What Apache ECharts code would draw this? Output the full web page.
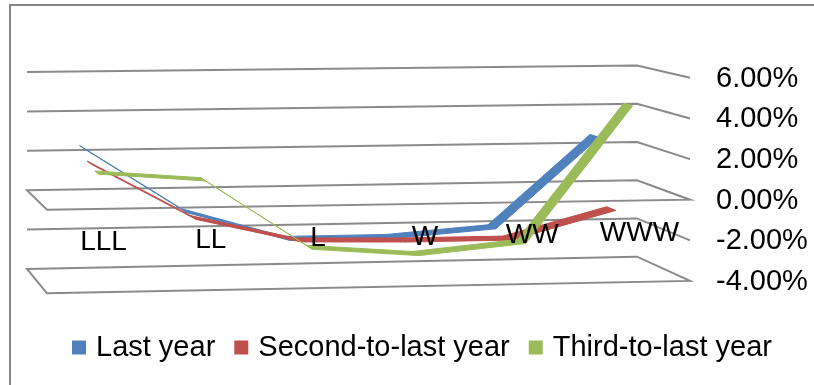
<!DOCTYPE html>
<html>
<head>
<meta charset="utf-8">
<script src="https://cdn.jsdelivr.net/npm/echarts@6/dist/echarts.min.js"></script>
<style>
  html, body { margin: 0; padding: 0; background: #fff; }
  #chart { width: 814px; height: 385px; }
</style>
</head>
<body>
<div id="chart"></div>
<script>
// ---- data ----
const categories = ['LLL', 'LL', 'L', 'W', 'WW', 'WWW'];
const lastYear = [2.3, -1.0, -2.5, -2.5, -2.1, 2.5];
const secondToLastYear = [1.8, -1.0, -2.2, -2.3, -2.3, -0.9];
const thirdToLastYear = [1.6, 1.2, -2.2, -2.6, -2.1, 4.6];
const seriesNames = ['Last year', 'Second-to-last year', 'Third-to-last year'];
const valueTicks = [-4, -2, 0, 2, 4, 6];
const planeLevels = [-4, 0];

// ---- look ----
const colors = ['#4F81BD', '#C0504D', '#9BBB59'];
const gridColor = '#8A8A8A';
const FONT = '"Liberation Sans", Arial, sans-serif';

// 3D view: the back wall is the cartesian grid; depth runs toward the viewer
const TILT = -10;        // right end of the wall sits higher
const SQUEEZE = 0.97;    // vertical foreshortening at the right end
const DX_LEFT = 20, DX_RIGHT = 53;     // horizontal depth shift, left/right
const DY_ZERO = 19.5, DY_GROW = 0.061; // vertical depth shift
const RIBBON_HALF = 0.09;

function project(params, api, xb, v, f) {
  const cs = params.coordSys;
  const t = (xb - cs.x) / cs.width;
  const y0 = api.coord([0, 0])[1];
  const yL = api.coord([0, v])[1];
  const yb = y0 + (yL - y0) * (1 - t * (1 - SQUEEZE)) + t * TILT;
  const dx = f * (DX_LEFT + (DX_RIGHT - DX_LEFT) * t);
  const dy = f * (DY_ZERO - DY_GROW * (y0 - yL));
  return [xb + dx, yb + dy];
}

// wall grid lines, side lines and the two full planes
function renderWalls(params, api) {
  const v = api.value(1);
  const cs = params.coordSys;
  const l = cs.x, r = cs.x + cs.width;
  const style = { stroke: gridColor, lineWidth: 2, fill: null };
  if (planeLevels.indexOf(v) >= 0) {
    return {
      type: 'polygon',
      shape: { points: [project(params, api, l, v, 0), project(params, api, r, v, 0),
                        project(params, api, r, v, 1), project(params, api, l, v, 1)] },
      style: style
    };
  }
  return {
    type: 'polyline',
    shape: { points: [project(params, api, l, v, 0), project(params, api, r, v, 0),
                      project(params, api, r, v, 1)] },
    style: style
  };
}

function ribbonRenderer(values, k) {
  const fc = (k + 0.5) / 3;
  const f0 = fc - RIBBON_HALF, f1 = fc + RIBBON_HALF;
  return function (params, api) {
    const i = params.dataIndex;
    if (i >= values.length - 1) return null;
    const v1 = api.value(1), v2 = values[i + 1];
    const x1 = api.coord([i, v1])[0];
    const x2 = api.coord([i + 1, v2])[0];
    return {
      type: 'polygon',
      shape: { points: [project(params, api, x1, v1, f0), project(params, api, x2, v2, f0),
                        project(params, api, x2, v2, f1), project(params, api, x1, v1, f1)] },
      style: { fill: colors[k], stroke: colors[k], lineWidth: 1 }
    };
  };
}

function renderCategoryLabel(params, api) {
  const i = params.dataIndex;
  const x = api.coord([i, 0])[0];
  const p = project(params, api, x, 0, 1);
  return {
    type: 'text',
    style: { text: categories[i], x: p[0] + 3, y: p[1] + 33, align: 'center',
             verticalAlign: 'middle', font: '28px ' + FONT, fill: '#000' }
  };
}

function renderValueLabel(params, api) {
  const v = api.value(1);
  const cs = params.coordSys;
  const p = project(params, api, cs.x + cs.width, v, 1);
  return {
    type: 'text',
    style: { text: v.toFixed(2) + '%', x: p[0] + 26, y: p[1] + 1, align: 'left',
             verticalAlign: 'middle', font: '29px ' + FONT, fill: '#000' }
  };
}

const seriesValues = [lastYear, secondToLastYear, thirdToLastYear];

const option = {
  animation: false,
  backgroundColor: '#fff',
  grid: { left: 27, right: 177, top: 72, bottom: 116 },
  xAxis: { type: 'category', data: categories, boundaryGap: true, show: false },
  yAxis: { type: 'value', min: -4, max: 6, interval: 2, show: false },
  legend: {
    data: seriesNames.map(n => ({ name: n, icon: 'rect' })),
    left: 67, top: 328,
    itemWidth: 14, itemHeight: 14, itemGap: 19,
    textStyle: { fontSize: 29, fontFamily: FONT, color: '#000', padding: [0, 0, 0, 5] }
  },
  graphic: [{
    type: 'rect', shape: { x: 10, y: 5, width: 840, height: 420 },
    style: { fill: null, stroke: '#868686', lineWidth: 2 }, silent: true
  }],
  series: [
    { type: 'custom', renderItem: renderWalls, silent: true,
      data: valueTicks.map(v => [0, v]) },
    ...seriesValues.map((vals, k) => ({
      type: 'custom', name: seriesNames[k], itemStyle: { color: colors[k] },
      renderItem: ribbonRenderer(vals, k),
      data: vals.map((v, i) => [i, v])
    })),
    { type: 'custom', renderItem: renderCategoryLabel, silent: true,
      data: categories.map((c, i) => [i, 0]) },
    { type: 'custom', renderItem: renderValueLabel, silent: true,
      data: valueTicks.map(v => [0, v]) }
  ]
};

const chart = echarts.init(document.getElementById('chart'), null, { renderer: 'canvas' });
chart.setOption(option);
</script>
</body>
</html>
